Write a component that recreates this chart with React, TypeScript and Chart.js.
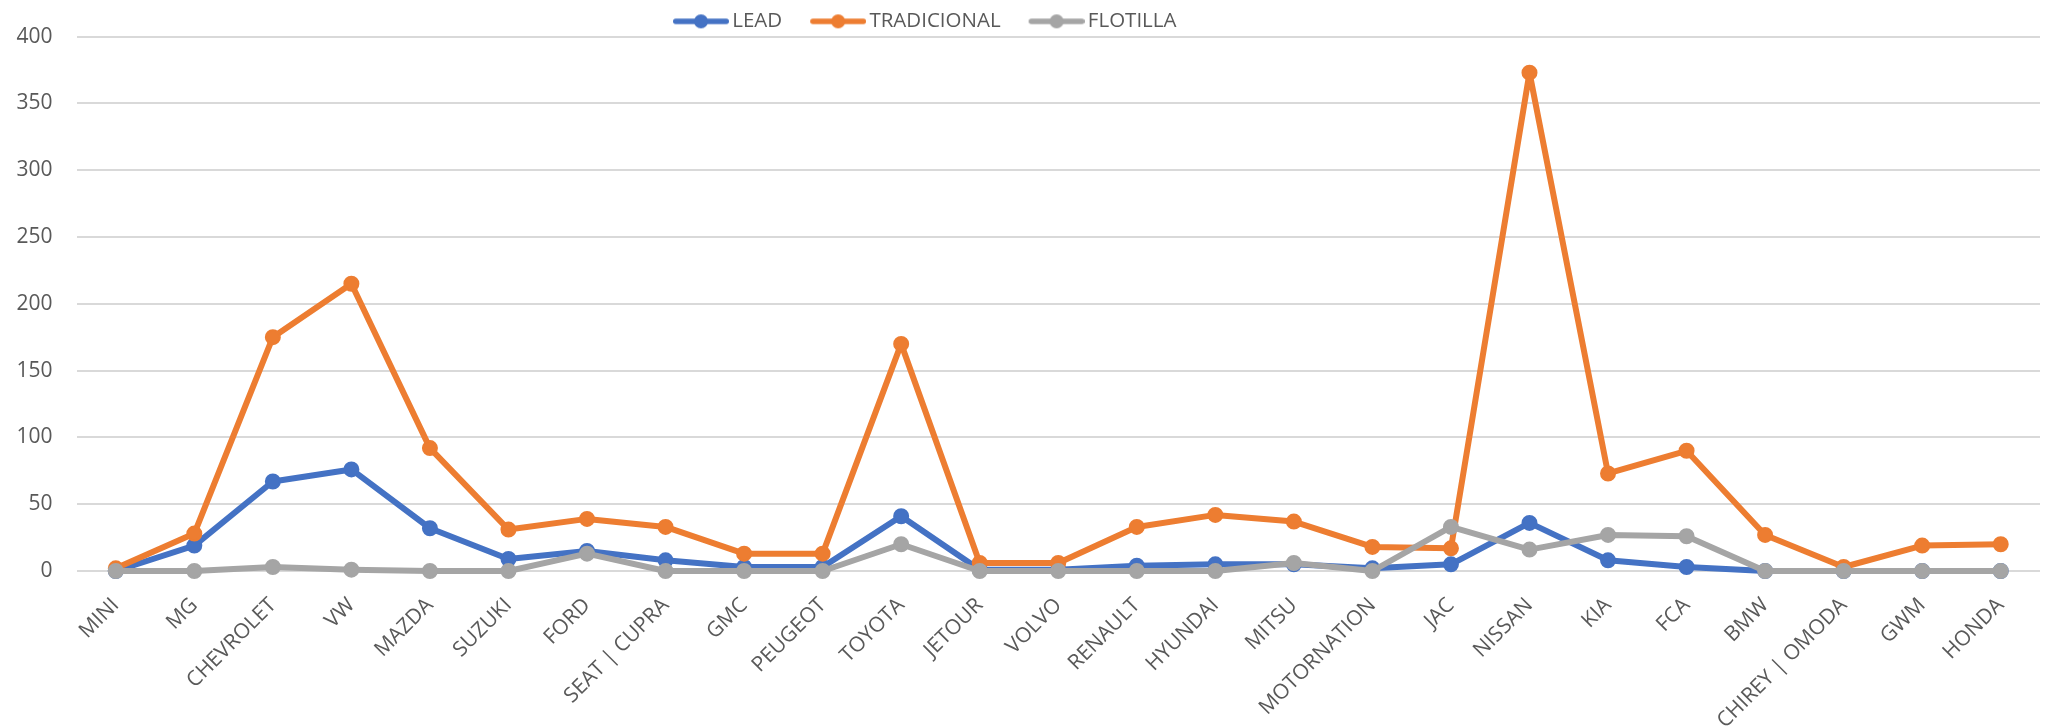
import React, { useEffect, useRef } from 'react';
import { Chart, registerables } from 'chart.js';

Chart.register(...registerables);

const categories = [
  'MINI', 'MG', 'CHEVROLET', 'VW', 'MAZDA', 'SUZUKI', 'FORD', 'SEAT | CUPRA', 'GMC', 'PEUGEOT',
  'TOYOTA', 'JETOUR', 'VOLVO', 'RENAULT', 'HYUNDAI', 'MITSU', 'MOTORNATION', 'JAC', 'NISSAN', 'KIA',
  'FCA', 'BMW', 'CHIREY | OMODA', 'GWM', 'HONDA',
];

const leadValues = [0, 19, 67, 76, 32, 9, 15, 8, 3, 3, 41, 1, 1, 4, 5, 5, 2, 5, 36, 8, 3, 0, 0, 0, 0];
const tradicionalValues = [2, 28, 175, 215, 92, 31, 39, 33, 13, 13, 170, 6, 6, 33, 42, 37, 18, 17, 373, 73, 90, 27, 3, 19, 20];
const flotillaValues = [0, 0, 3, 1, 0, 0, 13, 0, 0, 0, 20, 0, 0, 0, 0, 6, 0, 33, 16, 27, 26, 0, 0, 0, 0];

const seriesNames = ['LEAD', 'TRADICIONAL', 'FLOTILLA'];
const seriesColors = ['#4472C4', '#ED7D31', '#A5A5A5'];

const yMin = 0;
const yMax = 400;
const yStep = 50;

const W = 2049;
const H = 726;
const FONT = "'Open Sans', 'Noto Sans', sans-serif";
const TEXT_COLOR = '#595959';

// legend icon geometry
const ICON_BOX = 49;
const ICON_EXTRA = 7;

function makeIcon(color: string): HTMLCanvasElement {
  const c = document.createElement('canvas');
  const w = ICON_BOX + ICON_EXTRA * 2;
  const h = 20;
  c.width = w;
  c.height = h;
  const ctx = c.getContext('2d')!;
  ctx.strokeStyle = color;
  ctx.lineWidth = 5.5;
  ctx.lineCap = 'round';
  ctx.beginPath();
  ctx.moveTo(ICON_EXTRA + 2.75, h / 2);
  ctx.lineTo(w - 2.75, h / 2);
  ctx.stroke();
  ctx.fillStyle = color;
  ctx.beginPath();
  ctx.arc((ICON_EXTRA + w) / 2, h / 2, 7, 0, Math.PI * 2);
  ctx.fill();
  return c;
}

const LEGEND_DX = 645;
const LEGEND_DY = -20.5;

const legendShift = {
  id: 'legendShift',
  afterLayout(chart: any) {
    const lg = chart.legend;
    if (!lg) return;
    lg.left += LEGEND_DX;
    lg.right += LEGEND_DX;
    lg.top += LEGEND_DY;
    lg.bottom = lg.top + 60;
  },
};

export default function App() {
  const ref = useRef<HTMLCanvasElement | null>(null);

  useEffect(() => {
    document.body.style.margin = '0';
    const canvas = ref.current!;
    const icons = seriesColors.map(makeIcon);
    const seriesValues = [leadValues, tradicionalValues, flotillaValues];

    const chart = new Chart(canvas, {
      type: 'line',
      data: {
        labels: categories,
        datasets: seriesNames.map((name, i) => ({
          label: name,
          data: seriesValues[i],
          borderColor: seriesColors[i],
          backgroundColor: seriesColors[i],
          pointBackgroundColor: seriesColors[i],
          pointBorderColor: seriesColors[i],
          borderWidth: 6,
          borderJoinStyle: 'round' as any,
          borderCapStyle: 'round' as any,
          pointRadius: 7,
          pointBorderWidth: 2,
          tension: 0,
          fill: false,
          clip: false as any,
          order: seriesNames.length - i,
        })),
      },
      options: {
        responsive: false,
        animation: false,
        devicePixelRatio: 1,
        layout: { padding: { left: 0, right: 0, top: 0, bottom: 0 } },
        plugins: {
          tooltip: { enabled: false },
          legend: {
            display: true,
            position: 'top',
            align: 'start',
            maxHeight: 33,
            labels: {
              usePointStyle: true,
              pointStyleWidth: ICON_BOX,
              padding: 28,
              color: TEXT_COLOR,
              font: { family: FONT, size: 20.5 },
              sort: (a: any, b: any) => a.datasetIndex - b.datasetIndex,
              generateLabels: (chart: any) => {
                const items = Chart.defaults.plugins.legend.labels.generateLabels(chart);
                return items.map((it: any) => ({ ...it, pointStyle: icons[it.datasetIndex] }));
              },
            },
          },
        },
        scales: {
          x: {
            type: 'category',
            offset: true,
            grid: { display: false, drawTicks: false },
            border: { display: false },
            ticks: {
              autoSkip: false,
              minRotation: 45,
              maxRotation: 45,
              padding: 22,
              color: TEXT_COLOR,
              font: { family: FONT, size: 21 },
            },
            afterFit: (scale: any) => {
              scale.height = 155;
            },
          },
          y: {
            min: yMin,
            max: yMax,
            ticks: {
              stepSize: yStep,
              padding: 24,
              color: TEXT_COLOR,
              font: { family: FONT, size: 21 },
            },
            grid: { color: '#D9D9D9', lineWidth: 2, drawTicks: false },
            border: { display: false },
            afterFit: (scale: any) => {
              scale.width = 76.5;
            },
          },
        },
      },
      plugins: [legendShift],
    });

    return () => chart.destroy();
  }, []);

  return (
    <canvas
      ref={ref}
      width={W}
      height={H}
      style={{ display: 'block', width: W + 'px', height: H + 'px' }}
    />
  );
}
